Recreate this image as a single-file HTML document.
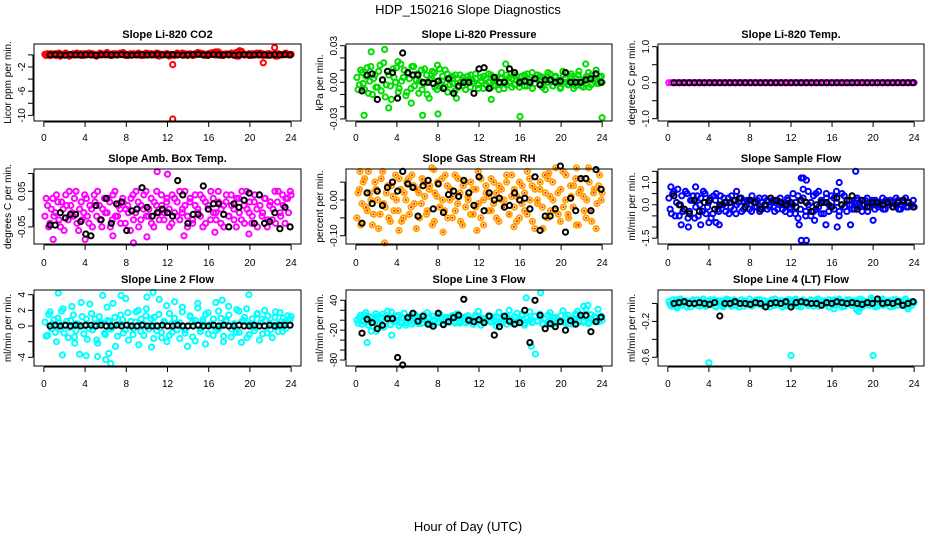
<!DOCTYPE html>
<html><head><meta charset="utf-8"><style>
body{margin:0;background:#fff}
svg{display:block;font-family:"Liberation Sans",Arial,sans-serif}
</style></head><body>
<svg id="chart" width="936" height="540" viewBox="0 0 936 540">
<text x="468" y="14" text-anchor="middle" font-size="13">HDP_150216  Slope Diagnostics</text>
<text x="468" y="531" text-anchor="middle" font-size="13">Hour of Day (UTC)</text>
</svg>
<script>
// ---- data ----
const xTicks = [0,4,8,12,16,20,24];
const xTickLabels = ['0','4','8','12','16','20','24'];

const co2ColA = [0.1,0.2,-0.1,0.0,0.2,0.1,-0.2,0.1,0.3,0.0,-0.1,0.2,0.1,0.0,0.2,-0.1,0.1,0.3,0.0,0.1,-0.2,0.2,0.1,0.0,0.4,0.1,-0.1,0.2,0.0,0.3,0.1,-0.1,0.0,0.2,0.1,0.0,0.2,-0.1,0.1,0.3,0.0,0.2,0.1,-0.1,0.2,0.0,0.1,0.2,-0.2,0.1,0.0,0.3,0.1,0.0,0.2,-0.1,0.1,0.0,0.2,0.1,0.3,0.0,-0.1,0.2,0.1,0.4,0.0,0.2,-0.1,0.1,0.2,0.0,0.3,0.1,-0.2,0.6,0.2,0.0,0.1,-0.1,0.2,0.1,0.0,0.3,-0.1,0.1,0.2,0.0,0.1,-0.2,0.2,0.0,0.1,0.3,0.0,0.1];
const co2ColB = [-0.1,0.1,0.2,0.0,-0.1,0.3,0.1,0.0,0.2,-0.2,0.1,0.0,0.3,0.1,-0.1,0.2,0.0,0.1,0.2,-0.1,0.0,0.3,0.1,0.2,0.0,-0.1,0.2,0.1,0.0,0.2,0.4,0.1,-0.1,0.0,0.2,0.1,0.3,0.0,-0.1,0.1,0.2,0.0,0.1,0.3,-0.2,0.1,0.0,0.2,0.1,0.0,-0.1,0.2,0.1,0.3,0.0,0.1,0.2,-0.1,0.0,0.4,0.1,0.2,0.0,-0.1,0.3,0.1,0.0,0.5,0.2,-0.1,0.1,0.0,0.2,0.1,0.4,-0.2,0.6,0.1,0.0,0.2,-0.1,0.1,0.3,0.0,0.2,0.1,-0.1,0.2,0.0,0.1,-0.2,0.1,0.0,0.2,0.1,0.0];
const co2OutHours = [12.5,12.5,21.3,22.4,19.0,16.7];
const co2OutVals = [-1.6,-10.6,-1.3,1.2,0.7,0.5];
const co2Black = [0,0.05,0,-0.05,0.05,0,0,0.05,0,-0.05,0,0.05,0,0,0.05,0,-0.05,0,0.05,0,0,0.1,0,0,0.05,0,-0.05,0,0.05,0.1,0,0,0.05,0,0,0.05,-0.05,0,0.05,0,0,0.05,0,-0.05,0.05,0,0.05,0];

const prsColA = [0.004,-0.002,0.008,-0.006,0.012,0.001,-0.010,0.006,-0.004,0.014,0.002,-0.012,0.009,-0.003,0.011,0.000,-0.008,0.015,0.004,-0.011,0.007,-0.005,0.013,0.002,-0.009,0.010,-0.001,0.006,-0.013,0.003,0.008,-0.006,0.011,0.001,-0.004,0.007,-0.002,0.005,-0.007,0.003,0.006,-0.003,0.002,0.005,-0.004,0.001,0.007,-0.002,0.004,-0.005,0.003,0.000,0.006,-0.003,0.002,-0.006,0.008,0.001,-0.002,0.004,-0.004,0.006,0.002,-0.001,0.005,-0.003,0.007,0.000,-0.005,0.003,0.006,-0.002,0.004,-0.006,0.008,0.001,-0.003,0.005,0.002,-0.004,0.006,0.000,-0.002,0.007,-0.005,0.003,0.009,-0.003,0.001,0.005,-0.004,0.006,0.002,-0.001,0.004,0.000];
const prsColB = [-0.006,0.010,-0.001,0.005,-0.009,0.013,0.003,-0.004,0.009,-0.007,0.016,-0.002,0.006,-0.014,0.004,0.012,-0.005,0.001,0.010,-0.008,0.003,0.013,-0.003,0.007,0.001,-0.006,0.011,-0.010,0.002,0.009,-0.004,0.014,-0.001,0.005,0.010,-0.008,0.004,-0.001,0.006,-0.004,0.000,0.004,-0.006,0.002,0.006,-0.001,0.003,-0.005,0.001,0.005,-0.002,0.007,-0.004,0.002,0.004,-0.001,0.003,-0.005,0.006,0.000,0.003,-0.002,0.005,-0.004,0.001,0.006,-0.003,0.002,0.008,-0.001,0.003,0.005,-0.004,0.002,0.000,0.007,-0.003,0.004,0.001,-0.005,0.009,0.003,-0.002,0.005,0.001,-0.003,0.006,0.002,-0.004,0.004,0.008,-0.002,0.003,0.010,-0.001,0.005];
const prsOutHours = [0.8,1.5,2.8,4.1,3.2,6.5,8.0,16.0,24.0,14.6,22.4,5.4,9.8,13.2];
const prsOutVals = [-0.027,0.025,0.027,0.017,-0.021,-0.027,-0.026,-0.028,-0.029,0.015,0.015,-0.017,-0.013,-0.014];
const prsBlack = [-0.007,0.006,0.007,-0.014,0.002,0.009,0.008,-0.013,0.024,0.008,0.006,0.006,0.000,0.000,-0.001,0.001,-0.005,0.003,-0.009,-0.003,0.000,0.000,-0.009,0.011,0.012,-0.005,0.004,0.000,0.000,0.011,0.008,0.000,0.001,0.000,0.003,-0.002,0.002,0.002,0.000,0.001,0.008,0.000,0.000,0.000,0.002,0.003,0.007,0.000];

const tmpColA = [0,0,0,0,0,0,0,0,0,0,0,0,0,0,0,0,0,0,0,0,0,0,0,0,0,0,0,0,0,0,0,0,0,0,0,0,0,0,0,0,0,0,0,0,0,0,0,0,0,0,0,0,0,0,0,0,0,0,0,0,0,0,0,0,0,0,0,0,0,0,0,0,0,0,0,0,0,0,0,0,0,0,0,0,0,0,0,0,0,0,0,0,0,0,0,0];
const tmpBlack = [0,0,0,0,0,0,0,0,0,0,0,0,0,0,0,0,0,0,0,0,0,0,0,0,0,0,0,0,0,0,0,0,0,0,0,0,0,0,0,0,0,0,0,0,0,0,0,0];

const ambColA = [-0.02,0.01,-0.04,0.03,-0.01,0.02,-0.05,0.00,0.04,-0.03,0.01,-0.02,0.05,-0.06,0.02,-0.01,0.03,-0.04,0.00,0.04,-0.02,0.01,-0.05,0.03,-0.01,0.02,-0.03,0.05,-0.02,0.00,0.03,-0.04,0.01,-0.06,0.04,-0.01,0.02,-0.03,0.00,0.05,-0.02,0.03,-0.05,0.01,-0.01,0.04,-0.03,0.02,0.00,-0.04,0.03,-0.02,0.05,-0.01,0.01,-0.05,0.02,-0.03,0.04,0.00,-0.02,0.03,-0.04,0.01,0.05,-0.01,-0.03,0.02,0.00,-0.05,0.04,-0.02,0.01,-0.03,0.03,-0.01,0.05,-0.04,0.00,0.02,-0.02,0.04,-0.05,0.01,-0.01,0.03,-0.03,0.02,0.00,-0.04,0.05,-0.02,0.01,0.03,-0.01,0.04];
const ambColB = [0.03,-0.05,0.00,-0.02,0.04,-0.03,0.02,-0.06,0.01,0.05,-0.01,0.03,-0.04,0.00,-0.03,0.04,-0.02,0.01,-0.05,0.02,0.05,-0.03,0.00,-0.01,0.03,-0.05,0.04,-0.02,0.01,-0.04,0.02,0.00,-0.01,0.03,-0.03,0.05,-0.05,0.01,0.04,-0.02,0.00,-0.04,0.02,0.05,-0.03,0.01,-0.01,0.03,-0.05,0.04,-0.01,0.02,-0.03,0.00,0.05,-0.02,0.03,-0.04,0.01,-0.01,0.04,-0.05,0.02,0.00,-0.03,0.03,-0.01,0.05,-0.04,0.01,0.02,-0.02,0.04,0.00,-0.05,0.03,-0.03,0.01,0.05,-0.01,-0.04,0.02,0.00,0.04,-0.02,0.03,-0.05,0.01,-0.03,0.05,0.02,-0.01,0.04,-0.04,0.03,0.05];
const ambOutHours = [0.9,11.0,12.0,8.7,4.0,13.6,16.6,19.9,6.7,10.0];
const ambOutVals = [-0.085,0.105,0.098,-0.095,-0.085,-0.075,-0.065,-0.07,-0.075,-0.078];
const ambBlack = [-0.045,-0.045,-0.01,-0.025,-0.015,-0.015,-0.035,-0.07,-0.075,0.01,-0.03,0.03,-0.04,0.015,0.02,-0.06,-0.005,0.0,0.06,0.005,-0.02,-0.01,0.0,-0.01,-0.02,0.08,0.04,-0.04,-0.015,-0.015,0.065,0.0,0.015,0.015,-0.015,-0.05,0.015,0.005,0.025,0.045,-0.04,0.04,-0.04,-0.035,-0.01,-0.055,0.005,-0.05];

const rhColA = [-0.05,0.03,-0.01,0.06,-0.03,0.02,-0.07,0.05,0.00,-0.04,0.08,-0.02,0.04,-0.06,0.01,0.07,-0.03,0.03,-0.05,0.00,0.06,-0.02,0.04,-0.08,0.02,-0.01,0.05,-0.04,0.03,0.09,-0.06,0.01,-0.02,0.06,-0.03,0.04,0.00,-0.05,0.07,-0.01,0.02,-0.07,0.05,0.01,-0.04,0.03,-0.02,0.08,-0.05,0.00,0.04,-0.03,0.06,-0.01,0.02,-0.06,0.03,0.00,0.05,-0.04,0.07,-0.02,0.01,-0.05,0.04,-0.03,0.08,0.00,-0.06,0.03,-0.01,0.05,-0.08,0.02,0.06,-0.03,0.00,0.09,-0.04,0.03,-0.02,0.07,-0.05,0.01,0.04,-0.07,0.02,0.06,-0.03,0.00,0.05,-0.06,0.03,-0.01,0.07,0.02];
const rhColB = [0.02,-0.07,0.05,-0.02,0.08,0.00,-0.04,0.03,-0.08,0.06,-0.01,0.02,-0.05,0.04,-0.03,0.00,0.06,-0.06,0.02,0.05,-0.04,0.07,-0.01,0.03,-0.05,0.06,0.01,-0.03,0.04,-0.07,0.02,0.05,-0.02,0.00,0.07,-0.05,0.03,0.01,-0.03,0.06,-0.06,0.04,-0.02,0.00,0.05,-0.04,0.03,-0.01,0.06,-0.07,0.02,0.01,-0.03,0.05,-0.05,0.04,0.00,-0.02,0.07,-0.04,0.01,0.03,-0.06,0.05,-0.01,0.02,-0.04,0.06,0.04,-0.08,0.00,0.03,-0.02,0.07,-0.05,0.01,0.05,-0.03,0.02,-0.06,0.08,0.00,-0.04,0.04,-0.02,0.06,-0.07,0.03,0.01,-0.05,0.09,-0.03,0.02,-0.08,0.04,0.00];
const rhOutHours = [2.8,8.5,11.8,0.4,7.6,21.5,15.4,4.2,18.8];
const rhOutVals = [-0.12,-0.09,-0.085,0.08,0.085,0.09,-0.075,-0.085,0.075];
const rhBlack = [-0.065,0.02,-0.01,0.025,-0.015,0.035,0.05,0.025,0.08,0.045,0.035,-0.045,0.04,0.055,-0.025,0.045,-0.035,0.015,0.025,0.01,0.055,0.02,-0.015,0.065,-0.03,0.02,0.0,0.005,-0.02,-0.015,0.02,0.0,0.005,-0.025,0.065,-0.085,-0.045,-0.045,-0.025,0.095,-0.09,0.005,-0.03,0.06,0.06,-0.03,0.085,0.03];

const sfColA = [0.3,-0.4,0.6,0.1,-0.5,0.4,-0.2,0.5,-0.3,0.2,-0.6,0.4,0.0,-0.3,0.5,-0.1,0.3,-0.4,0.2,-0.2,0.4,0.0,-0.3,0.3,-0.1,0.2,-0.4,0.1,0.3,-0.2,0.0,0.2,-0.3,0.1,-0.1,0.3,-0.2,0.0,0.2,-0.1,0.1,-0.3,0.2,0.0,-0.2,0.1,0.3,-0.1,0.0,-0.4,0.4,-0.2,0.3,-0.5,0.6,0.1,-0.3,0.5,-0.1,0.2,-0.4,0.3,0.0,0.4,-0.2,0.1,-0.3,0.5,-0.1,0.2,0.0,-0.2,0.1,0.3,-0.1,0.0,0.2,-0.3,0.1,0.0,0.2,-0.1,0.1,-0.2,0.2,0.0,0.1,-0.1,0.3,-0.2,0.0,0.2,-0.1,0.1,0.0,-0.1];
const sfColB = [-0.2,0.5,-0.5,0.7,0.0,-0.3,0.6,-0.6,0.2,0.4,-0.1,-0.5,0.3,0.6,-0.4,0.1,-0.6,0.4,0.5,-0.3,0.0,0.3,0.1,-0.4,0.4,-0.2,0.0,0.3,-0.3,0.1,0.2,-0.2,0.4,-0.1,0.2,-0.3,0.1,0.3,-0.2,0.0,0.2,0.1,-0.2,0.3,0.0,-0.3,0.2,-0.2,0.5,0.1,-0.6,0.2,0.7,-0.3,0.0,-0.5,0.4,-0.2,0.6,-0.4,0.1,0.5,-0.3,-0.1,0.3,0.6,-0.5,0.0,0.4,-0.3,0.2,0.0,-0.2,0.2,0.1,-0.3,0.0,0.3,-0.1,0.2,-0.2,0.1,0.0,0.3,-0.2,0.1,0.2,-0.1,0.0,0.2,-0.2,0.1,0.3,-0.1,0.0,0.2];
const sfOutHours = [1.3,2.0,3.2,4.7,4.0,5.0,13.0,13.2,13.5,13.0,13.5,18.3,16.7,17.8,15.4,16.5,20.0,12.8,0.3,14.3,6.7,2.7,11.9];
const sfOutVals = [-0.9,-1.0,-0.9,-0.8,-0.8,-0.9,1.2,1.2,1.1,-1.6,-1.6,1.5,1.0,-0.9,-0.9,-1.0,-0.7,-0.9,0.8,-0.7,0.6,0.8,-0.4];
const sfBlack = [0.4,0.0,-0.2,-0.4,0.2,-0.3,0.1,0.2,-0.2,0.0,0.1,0.1,0.2,0.3,-0.1,0.2,0.1,-0.2,0.0,0.3,0.2,0.1,0.0,0.1,-0.1,0.2,0.1,-0.3,0.0,0.1,0.1,-0.1,0.3,0.0,0.2,0.4,-0.2,0.2,-0.1,0.1,0.1,0.0,0.1,-0.1,0.1,0.2,0.1,-0.1];

const l2ColA = [0.5,-1.2,1.8,0.3,-0.8,1.0,-0.4,2.2,0.1,-1.5,0.7,1.4,-0.6,0.2,3.0,-1.0,0.9,-0.3,1.6,0.0,-1.8,1.2,0.4,-0.9,2.4,0.6,-0.2,1.1,-1.3,0.3,0.8,-0.5,1.7,0.0,-1.1,0.5,2.0,-0.7,0.2,1.3,-0.4,0.9,-1.6,0.1,1.5,-0.8,0.6,2.6,-1.2,0.3,1.0,-0.5,0.4,1.8,-0.9,0.0,1.2,-1.4,0.7,2.3,-0.3,0.5,1.5,-1.0,0.2,0.9,-0.6,1.9,0.0,-1.3,0.8,1.4,-0.4,0.3,2.1,-0.8,0.6,1.1,-1.5,0.2,0.9,-0.2,1.6,0.4,-1.0,0.7,1.3,-0.5,0.1,1.8,-0.7,0.5,1.0,-0.3,0.8,1.2];
const l2ColB = [-1.3,1.5,-0.3,0.8,-2.0,0.4,1.9,-0.9,0.6,-0.2,2.5,-1.4,0.3,-3.6,1.2,0.0,-1.7,2.8,-0.5,0.9,-2.2,0.5,3.9,-1.1,0.7,-0.4,2.9,-2.6,0.2,1.4,-0.9,3.5,-1.8,0.6,-0.3,1.8,-2.4,0.9,-1.2,2.2,0.0,-2.7,1.1,-0.6,3.4,-1.5,0.4,-2.0,1.6,-0.8,3.1,0.2,-1.6,2.4,-0.5,-2.6,1.3,0.5,-1.9,2.9,-0.7,0.8,-2.3,1.7,0.1,-1.2,3.0,-0.4,1.0,-2.0,0.6,2.5,-1.4,0.2,-0.8,1.9,-2.1,0.7,2.2,-1.1,0.3,-0.6,1.5,-1.8,0.9,2.0,-0.9,0.4,-1.5,1.1,0.2,1.7,-0.7,0.6,1.3,0.9];
const l2OutHours = [1.4,1.8,4.1,5.2,6.0,6.3,6.5,10.0,10.6,19.9,17.3,3.0,7.5];
const l2OutVals = [4.2,-3.7,-3.8,-3.9,-4.3,-3.5,-4.8,3.7,4.3,4.0,3.3,-2.2,3.9];
const l2Black = [0.0,0.1,0.0,0.1,0.0,0.1,0.0,0.1,0.1,0.0,0.1,0.0,0.0,0.1,0.0,0.1,0.0,0.0,0.1,0.0,0.0,0.0,0.1,0.0,0.0,0.1,0.0,0.0,0.0,0.1,0.0,0.0,0.1,0.0,0.1,0.0,0.0,0.1,0.0,0.0,0.1,0.0,0.0,0.1,0.0,0.1,0.1,0.1];

const l3ColA = [0,5,-8,10,-3,7,-12,2,8,-5,12,-2,4,-9,6,-1,10,-6,3,-10,7,0,-4,9,-7,2,11,-3,5,-8,1,8,-5,3,-1,6,-4,9,-2,4,-6,1,7,-3,2,-8,10,-1,5,-5,3,8,-2,0,6,-7,4,-3,9,1,-5,7,-2,3,12,-6,5,0,-4,8,-1,6,-8,2,10,-3,4,-6,1,9,-2,5,-7,3,0,11,-4,6,-1,8,-5,2,7,-3,4,0];
const l3ColB = [-6,10,-2,15,-10,4,-4,13,-7,6,-14,9,1,16,-3,7,-11,5,14,-5,2,-8,12,-1,6,-6,3,15,-9,8,0,-4,11,-7,5,2,-3,8,-6,12,-2,4,-5,9,0,-8,6,18,-10,3,-1,10,-4,7,-12,16,-3,5,-8,20,2,-6,14,-1,9,-10,4,17,-5,8,-2,12,-7,3,-4,15,-9,6,1,-3,19,-6,10,2,-8,13,0,5,-4,22,-7,11,-2,6,-3,8];
const l3OutHours = [1.1,1.5,3.5,3.1,17.1,17.5,16.6,18.0,22.6,22.2,23.6,21.6,9.8,2.0];
const l3OutVals = [-45,-22,-30,18,-52,-68,45,55,30,28,22,18,12,-22];
const l3Black = [-26,2,-5,-17,-10,3,3,-75,-90,5,14,-2,8,-8,-12,14,-9,-3,5,10,42,0,-3,1,-5,8,-30,-13,8,-2,-8,-5,20,-45,40,10,-17,-7,-13,-3,-20,-1,-8,10,10,-23,-3,6];

const l4ColA = [0.02,-0.03,0.01,0.04,-0.02,0.03,0.00,-0.04,0.02,0.03,-0.01,0.04,-0.03,0.01,0.02,-0.02,0.04,0.00,-0.03,0.03,0.01,-0.04,0.02,0.04,-0.01,0.03,-0.02,0.00,0.04,-0.03,0.02,0.01,-0.02,0.03,0.04,-0.01,0.00,0.03,-0.03,0.02,0.04,-0.02,0.01,0.03,-0.04,0.02,0.00,0.04,-0.01,0.03,-0.03,0.02,0.04,0.01,-0.02,0.03,0.00,0.04,-0.03,0.02,0.01,-0.01,0.04,0.03,-0.02,0.00,0.03,-0.04,0.02,0.04,0.01,-0.02,0.03,0.00,-0.03,0.04,0.02,-0.01,0.03,0.01,-0.04,0.02,0.04,-0.02,0.00,0.03,0.01,-0.03,0.04,0.02,-0.01,0.03,0.00,0.02,-0.02,0.01];
const l4ColB = [-0.01,0.04,-0.03,0.02,0.05,-0.02,0.03,0.01,-0.04,0.04,0.00,-0.02,0.03,0.05,-0.03,0.02,0.00,0.04,-0.04,0.01,0.03,-0.02,0.05,0.00,-0.03,0.04,0.02,-0.04,0.01,0.03,-0.01,0.05,-0.03,0.02,0.00,0.04,-0.02,0.03,0.01,-0.04,0.02,0.05,-0.01,0.00,0.03,-0.03,0.04,0.01,-0.02,0.05,0.00,-0.04,0.03,0.02,-0.01,0.04,-0.03,0.01,0.05,-0.02,0.03,0.00,-0.04,0.02,0.04,-0.01,0.05,0.02,-0.03,0.01,0.04,-0.02,0.00,0.03,0.05,-0.04,0.02,0.01,-0.02,0.04,0.00,-0.03,0.03,0.05,-0.01,0.02,-0.04,0.04,0.01,-0.02,0.03,0.00,0.05,-0.03,0.02,0.01];
const l4OutHours = [4.0,12.0,20.0,16.2,18.4,18.6,0.9,23.4,19.8];
const l4OutVals = [-0.66,-0.58,-0.58,-0.06,-0.07,-0.09,-0.05,-0.06,0.06];
const l4Black = [0.00,0.01,0.02,0.00,0.00,0.01,0.00,-0.01,0.01,-0.14,0.00,0.00,0.02,0.00,0.00,-0.01,0.01,0.00,-0.04,0.00,0.01,0.00,0.02,-0.04,0.01,0.02,0.01,0.00,0.00,-0.02,0.01,0.00,0.02,0.01,0.00,0.01,0.00,-0.01,0.01,0.00,0.05,0.00,0.01,0.00,0.02,-0.02,0.00,0.02];

// ---- layout ----
const NS = 'http://www.w3.org/2000/svg';
const svg = document.getElementById('chart');
const cols = [{l:34,r:301},{l:346,r:612},{l:658,r:924}];
const rows = [{t:44,b:121,tl:141,tt:38},{t:169,b:244,tl:266,tt:162},{t:290,b:366,tl:387,tt:283}];

const panels = [
 {key:'co2',c:0,r:0,title:'Slope Li-820 CO2',ylab:'Licor ppm per min.',color:'#ff0000',dom:[-10.93,1.8],yt:[-10,-8,-6,-4,-2,0],ytl:['-10','','-6','','-2',''],a:co2ColA,b:co2ColB,oh:co2OutHours,ov:co2OutVals,k:co2Black},
 {key:'pressure',c:1,r:0,title:'Slope Li-820 Pressure',ylab:'kPa per min.',color:'#00dd00',dom:[-0.0317,0.0314],yt:[-0.03,-0.02,-0.01,0,0.01,0.02,0.03],ytl:['-0.03','','','0.00','','','0.03'],a:prsColA,b:prsColB,oh:prsOutHours,ov:prsOutVals,k:prsBlack},
 {key:'li820-temp',c:2,r:0,title:'Slope Li-820 Temp.',ylab:'degrees C per min.',color:'#ff00ff',dom:[-1.064,1.075],yt:[-1,-0.5,0,0.5,1],ytl:['-1.0','','0.0','','1.0'],a:tmpColA,b:[],oh:[],ov:[],k:tmpBlack},
 {key:'amb-box-temp',c:0,r:1,title:'Slope Amb. Box Temp.',ylab:'degrees C per min.',color:'#ff00ff',dom:[-0.098,0.1126],yt:[-0.05,0,0.05,0.1],ytl:['-0.05','','0.05',''],a:ambColA,b:ambColB,oh:ambOutHours,ov:ambOutVals,k:ambBlack},
 {key:'gas-stream-rh',c:1,r:1,title:'Slope Gas Stream RH',ylab:'percent per min.',color:'#ffa500',dot:'#ff0000',dom:[-0.1232,0.0868],yt:[-0.1,-0.05,0,0.05],ytl:['-0.10','','0.00',''],a:rhColA,b:rhColB,oh:rhOutHours,ov:rhOutVals,k:rhBlack},
 {key:'sample-flow',c:2,r:1,title:'Slope Sample Flow',ylab:'ml/min per min.',color:'#0000ff',dom:[-1.762,1.605],yt:[-1.5,-1,-0.5,0,0.5,1,1.5],ytl:['-1.5','','','0.0','','1.0',''],a:sfColA,b:sfColB,oh:sfOutHours,ov:sfOutVals,k:sfBlack},
 {key:'line2-flow',c:0,r:2,title:'Slope Line 2 Flow',ylab:'ml/min per min.',color:'#00ffff',dom:[-5.11,4.6],yt:[-4,-2,0,2,4],ytl:['-4','','0','2','4'],a:l2ColA,b:l2ColB,oh:l2OutHours,ov:l2OutVals,k:l2Black},
 {key:'line3-flow',c:1,r:2,title:'Slope Line 3 Flow',ylab:'ml/min per min.',color:'#00ffff',dom:[-92,60.7],yt:[-80,-60,-40,-20,0,20,40],ytl:['-80','','','-20','','','40'],a:l3ColA,b:l3ColB,oh:l3OutHours,ov:l3OutVals,k:l3Black},
 {key:'line4-flow',c:2,r:2,title:'Slope Line 4 (LT) Flow',ylab:'ml/min per min.',color:'#00ffff',dom:[-0.697,0.15],yt:[-0.6,-0.4,-0.2,0],ytl:['-0.6','','-0.2',''],a:l4ColA,b:l4ColB,oh:l4OutHours,ov:l4OutVals,k:l4Black}
];

function mk(tag, attrs, parent){
  const e = document.createElementNS(NS, tag);
  for (const k in attrs) e.setAttribute(k, attrs[k]);
  (parent||svg).appendChild(e);
  return e;
}

panels.forEach(p => {
  const C = cols[p.c], R = rows[p.r];
  const g = mk('g', {});
  
  
  const pad = (C.r - C.l) / 1.08 * 0.04;
  const x0 = C.l + pad, x1 = C.r - pad;
  const xs = h => x0 + (h / 24) * (x1 - x0);
  const ys = v => R.b - (v - p.dom[0]) / (p.dom[1] - p.dom[0]) * (R.b - R.t);

  const t = mk('text', {x:(C.l+C.r)/2, y:R.tt, 'text-anchor':'middle', 'font-size':11, 'font-weight':'bold'}, g);
  t.textContent = p.title;
  
  

  const yl = mk('text', {x:0, y:0, 'text-anchor':'middle', 'font-size':10, transform:`translate(${C.l-23},${(R.t+R.b)/2}) rotate(-90)`}, g);
  yl.textContent = p.ylab;
  
  

  const pts = mk('g', {fill:'none', 'stroke-width':2}, g);
  
  
  const drawPt = (h, v, col, dot) => {
    const c = mk('circle', {cx:xs(h).toFixed(1), cy:ys(v).toFixed(1), r:2.6, stroke:col}, pts);
    
    
    if (dot) mk('circle', {cx:xs(h).toFixed(1), cy:ys(v).toFixed(1), r:1, fill:dot, stroke:'none'}, pts);
  };
  const nA = p.a.length;
  p.a.forEach((v,i) => drawPt(0.1 + i * 23.9 / (nA - 1), v, p.color, p.dot));
  const nB = p.b.length;
  p.b.forEach((v,i) => drawPt(0.22 + i * 23.7 / (nB - 1), v, p.color, p.dot));
  p.oh.forEach((h,i) => drawPt(h, p.ov[i], p.color, p.dot));
  const nK = p.k.length;
  p.k.forEach((v,i) => drawPt(0.6 + i * 23.3 / (nK - 1), v, '#000'));

  const box = mk('rect', {x:C.l, y:R.t, width:C.r-C.l, height:R.b-R.t, fill:'none', stroke:'#000', 'stroke-width':1}, g);
  
  

  const xa = mk('g', {}, g);
  
  
  mk('line', {x1:xs(xTicks[0]), x2:xs(xTicks[xTicks.length-1]), y1:R.b+1, y2:R.b+1, stroke:'#000'}, xa);
  xTicks.forEach((v,i) => {
    mk('line', {x1:xs(v), x2:xs(v), y1:R.b+1, y2:R.b+6, stroke:'#000'}, xa);
    const tl = mk('text', {x:xs(v), y:R.tl, 'text-anchor':'middle', 'font-size':10}, xa);
    tl.textContent = xTickLabels[i];
    
    
  });

  const ya = mk('g', {}, g);
  
  
  mk('line', {x1:C.l-1, x2:C.l-1, y1:ys(p.yt[0]), y2:ys(p.yt[p.yt.length-1]), stroke:'#000'}, ya);
  p.yt.forEach((v,i) => {
    mk('line', {x1:C.l-6, x2:C.l-1, y1:ys(v), y2:ys(v), stroke:'#000'}, ya);
    if (p.ytl[i]) {
      const tl = mk('text', {x:0, y:0, 'text-anchor':'middle', 'font-size':10, transform:`translate(${C.l-9},${ys(v)}) rotate(-90)`}, ya);
      tl.textContent = p.ytl[i];
      
      
    }
  });
});
</script>
</body></html>
